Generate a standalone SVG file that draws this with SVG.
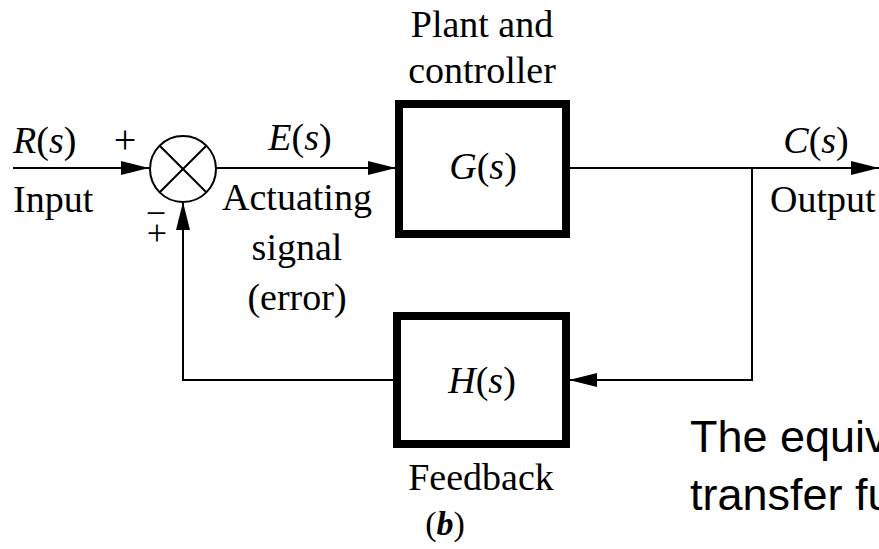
<svg xmlns="http://www.w3.org/2000/svg" width="879" height="549" viewBox="0 0 879 549">
<style>
.t{font-family:"Liberation Serif","Times New Roman",serif;font-size:38px;fill:#000}
.i{font-style:italic}
.ln{fill:none;stroke:#000;stroke-width:2}
.box{fill:#fff;stroke:#000;stroke-width:8}
.note{font-family:"Liberation Sans",Arial,sans-serif;font-size:45px;fill:#000}
</style>
<defs>
<marker id="ah" markerUnits="userSpaceOnUse" markerWidth="28" markerHeight="14" refX="28" refY="7" orient="auto">
<path d="M0,0 L28,7 L0,14 z" fill="#000"/>
</marker>
</defs>
<rect width="879" height="549" fill="#fff"/>
<g id="connectors">
<path class="ln" d="M13,168 H149" marker-end="url(#ah)"/>
<path class="ln" d="M216,168 H396" marker-end="url(#ah)"/>
<path class="ln" d="M570,168 H879" marker-end="url(#ah)"/>
<path class="ln" d="M752,168 V380 H569" marker-end="url(#ah)"/>
<path class="ln" d="M393,380 H183 V202" marker-end="url(#ah)"/>
</g>
<g id="sum">
<circle cx="183" cy="169" r="33" fill="#fff" stroke="#000" stroke-width="2"/>
<path class="ln" d="M159.7,145.7 L206.3,192.3 M206.3,145.7 L159.7,192.3"/>
<text class="t" x="125" y="153" text-anchor="middle" style="font-size:40px">+</text>
<text class="t" text-anchor="middle" style="font-size:36px"><tspan x="156" y="225">−</tspan><tspan x="157" y="245">+</tspan></text>
</g>
<g id="input">
<text class="t" x="13" y="153"><tspan class="i">R</tspan>(<tspan class="i">s</tspan>)</text>
<text class="t" x="13" y="212">Input</text>
</g>
<g id="error">
<text class="t" x="300" y="150" text-anchor="middle"><tspan class="i">E</tspan>(<tspan class="i">s</tspan>)</text>
<text class="t" x="297" y="210" text-anchor="middle">Actuating</text>
<text class="t" x="297" y="260" text-anchor="middle">signal</text>
<text class="t" x="297" y="310" text-anchor="middle">(error)</text>
</g>
<g id="G">
<text class="t" x="482" y="37" text-anchor="middle">Plant and</text>
<text class="t" x="482" y="83" text-anchor="middle">controller</text>
<rect class="box" x="399" y="104" width="167" height="130"/>
<text class="t" x="483" y="179" text-anchor="middle"><tspan class="i">G</tspan>(<tspan class="i">s</tspan>)</text>
</g>
<g id="output">
<text class="t" x="816" y="153" text-anchor="middle"><tspan class="i">C</tspan>(<tspan class="i">s</tspan>)</text>
<text class="t" x="770" y="212">Output</text>
</g>
<g id="H">
<rect class="box" x="397" y="316" width="169" height="128"/>
<text class="t" x="482" y="393" text-anchor="middle"><tspan class="i">H</tspan>(<tspan class="i">s</tspan>)</text>
<text class="t" x="481" y="490" text-anchor="middle">Feedback</text>
<text class="t" x="445" y="535" text-anchor="middle" style="font-size:34px">(<tspan style="font-style:italic;font-weight:bold">b</tspan>)</text>
</g>
<g id="note">
<text class="note" x="690" y="452">The equivalent</text>
<text class="note" x="690" y="510">transfer function</text>
</g>
</svg>
